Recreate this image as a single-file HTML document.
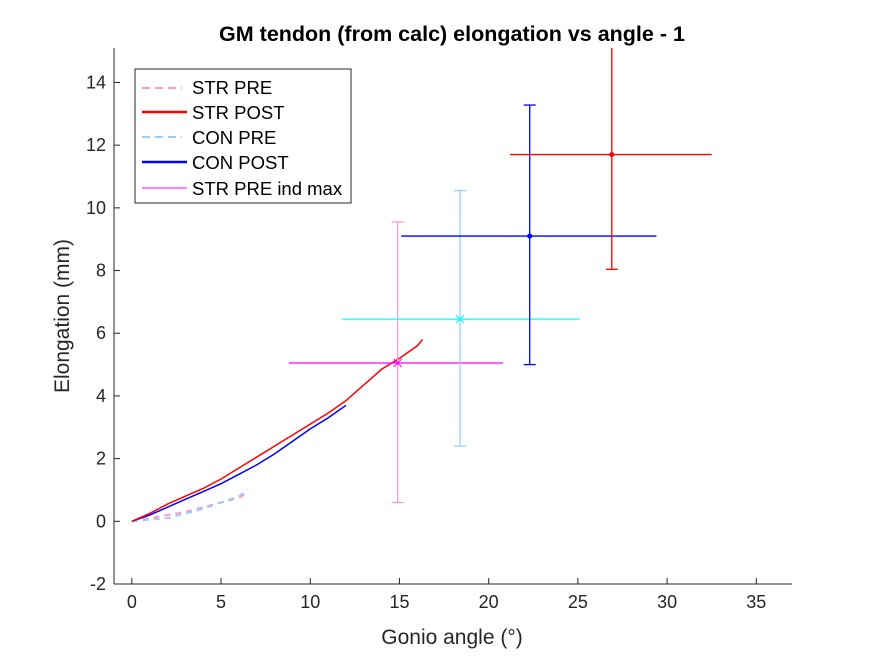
<!DOCTYPE html>
<html><head><meta charset="utf-8"><style>
body{margin:0;background:#fff;font-family:"Liberation Sans",sans-serif}
svg text{font-family:"Liberation Sans",sans-serif}
</style></head><body>
<svg width="875" height="656" viewBox="0 0 875 656">
<rect width="875" height="656" fill="#fff"/>
<text x="452" y="41" text-anchor="middle" font-size="21.5" font-weight="bold" fill="#000">GM tendon (from calc) elongation vs angle - 1</text>
<g id="axes"></g>
<g id="plot"></g>
<text x="452" y="644" text-anchor="middle" font-size="21" fill="#262626">Gonio angle (°)</text>
<text transform="translate(69,316) rotate(-90)" text-anchor="middle" font-size="21" fill="#262626">Elongation (mm)</text>
<g>
<rect x="135" y="69" width="216" height="134" fill="#fff" stroke="#262626" stroke-width="1"/>
<line x1="142" y1="88" x2="182" y2="88" stroke="#ff99cc" stroke-width="2" stroke-dasharray="8,5"/>
<text x="192" y="94" font-size="18.5" fill="#000">STR PRE</text>
<line x1="142" y1="112" x2="187" y2="112" stroke="#ff0000" stroke-width="2.5"/>
<text x="192" y="119" font-size="18.5" fill="#000">STR POST</text>
<line x1="142" y1="137" x2="182" y2="137" stroke="#99ccff" stroke-width="2" stroke-dasharray="8,5"/>
<text x="192" y="144" font-size="18.5" fill="#000">CON PRE</text>
<line x1="142" y1="162" x2="187" y2="162" stroke="#0000ff" stroke-width="2.5"/>
<text x="192" y="169" font-size="18.5" fill="#000">CON POST</text>
<line x1="142" y1="188" x2="187" y2="188" stroke="#ff00ff" stroke-width="1"/>
<text x="192" y="195" font-size="18.5" fill="#000">STR PRE ind max</text>
</g>
</svg>
<script>
const xTicks=[0,5,10,15,20,25,30,35];
const yTicks=[-2,0,2,4,6,8,10,12,14];
const strPostX=[0,1,2,3,4,5,6,7,8,9,10,11,12,13,14,15,16,16.3];
const strPostY=[0,0.25,0.55,0.8,1.05,1.35,1.7,2.05,2.4,2.75,3.1,3.45,3.85,4.35,4.85,5.2,5.6,5.8];
const conPostX=[0,1,2,3,4,5,6,7,8,9,10,11,12];
const conPostY=[0,0.2,0.45,0.7,0.95,1.2,1.5,1.8,2.15,2.55,2.95,3.3,3.7];
const strPreX=[0,1,2,3,4,5,6,6.5];
const strPreY=[0,0.1,0.2,0.3,0.45,0.6,0.75,0.9];
const conPreX=[0,1,2,3,4,5,6,6.5];
const conPreY=[0,0.05,0.1,0.25,0.4,0.6,0.8,1.0];
// error bars: [x, y, yLow, yHigh, xLow, xHigh]
const ebStrPre=[14.9,5.05,0.6,9.55,8.8,20.8];
const ebConPre=[18.4,6.45,2.4,10.55,11.8,25.1];
const ebConPost=[22.3,9.1,5.0,13.28,15.1,29.4];
const ebStrPost=[26.9,11.7,8.04,16.5,21.2,32.5];

const L=114,R=792,T=48,B=584,xmin=-1,xmax=37,ymin=-2,ymax=15.1;
const sx=v=>L+(v-xmin)/(xmax-xmin)*(R-L);
const sy=v=>B-(v-ymin)/(ymax-ymin)*(B-T);
const NS='http://www.w3.org/2000/svg';
const axes=document.getElementById('axes'),plot=document.getElementById('plot');
function mk(tag,attrs,parent){const e=document.createElementNS(NS,tag);for(const k in attrs)e.setAttribute(k,attrs[k]);parent.appendChild(e);return e;}
mk('line',{x1:L,y1:B,x2:R,y2:B,stroke:'#262626'},axes);
mk('line',{x1:L,y1:T,x2:L,y2:B,stroke:'#262626'},axes);
xTicks.forEach(t=>{const x=sx(t);
 const tk=mk('line',{x1:x,y1:B,x2:x,y2:B-6,stroke:'#262626'},axes);
 
 
 const tx=mk('text',{x:x,y:B+24,'text-anchor':'middle','font-size':'18',fill:'#262626'},axes);tx.textContent=t;
 
 });
yTicks.forEach(t=>{const y=sy(t);
 const tk=mk('line',{x1:L,y1:y,x2:L+6,y2:y,stroke:'#262626'},axes);
 
 
 const tx=mk('text',{x:L-8,y:y+6,'text-anchor':'end','font-size':'18',fill:'#262626'},axes);tx.textContent=t;
 
 });
const clip=mk('clipPath',{id:'cp'},plot);mk('rect',{x:L,y:T,width:R-L,height:B-T},clip);
const g=mk('g',{'clip-path':'url(#cp)'},plot);
function line(xs,ys,color,w,dash,name){const p=mk('polyline',{points:xs.map((x,i)=>sx(x)+','+sy(ys[i])).join(' '),fill:'none',stroke:color,'stroke-width':w},g);if(dash)p.setAttribute('stroke-dasharray',dash);
 
 }
line(strPreX,strPreY,'#ff99cc',2,'6,5','line-str-pre');
line(conPreX,conPreY,'#99ccff',2,'6,5','line-con-pre');
line(conPostX,conPostY,'#0000ff',1.5,null,'line-con-post');
line(strPostX,strPostY,'#ff0000',1.5,null,'line-str-post');
function eb(d,vc,hc,marker,name){const[x,y,yl,yh,xl,xh]=d;const gg=mk('g',{},g);
 
 
 mk('line',{x1:sx(xl),y1:sy(y),x2:sx(xh),y2:sy(y),stroke:hc,'stroke-width':1.3},gg);
 mk('line',{x1:sx(x),y1:sy(yl),x2:sx(x),y2:sy(yh),stroke:vc,'stroke-width':1.3},gg);
 [yl,yh].forEach(v=>mk('line',{x1:sx(x)-6,y1:sy(v),x2:sx(x)+6,y2:sy(v),stroke:vc,'stroke-width':1.3},gg));
 const cx=sx(x),cy=sy(y);
 if(marker==='x'){mk('path',{d:`M${cx-4},${cy-4}L${cx+4},${cy+4}M${cx-4},${cy+4}L${cx+4},${cy-4}`,stroke:hc,'stroke-width':1},gg);}
 else mk('circle',{cx:cx,cy:cy,r:2.5,fill:hc},gg);}
eb(ebStrPre,'#ff99cc','#ff00ff','x','errorbar-str-pre');
eb(ebConPre,'#99ccff','#00ffff','x','errorbar-con-pre');
eb(ebConPost,'#0000ff','#0000ff','o','errorbar-con-post');
eb(ebStrPost,'#ff0000','#ff0000','o','errorbar-str-post');
</script>
</body></html>
